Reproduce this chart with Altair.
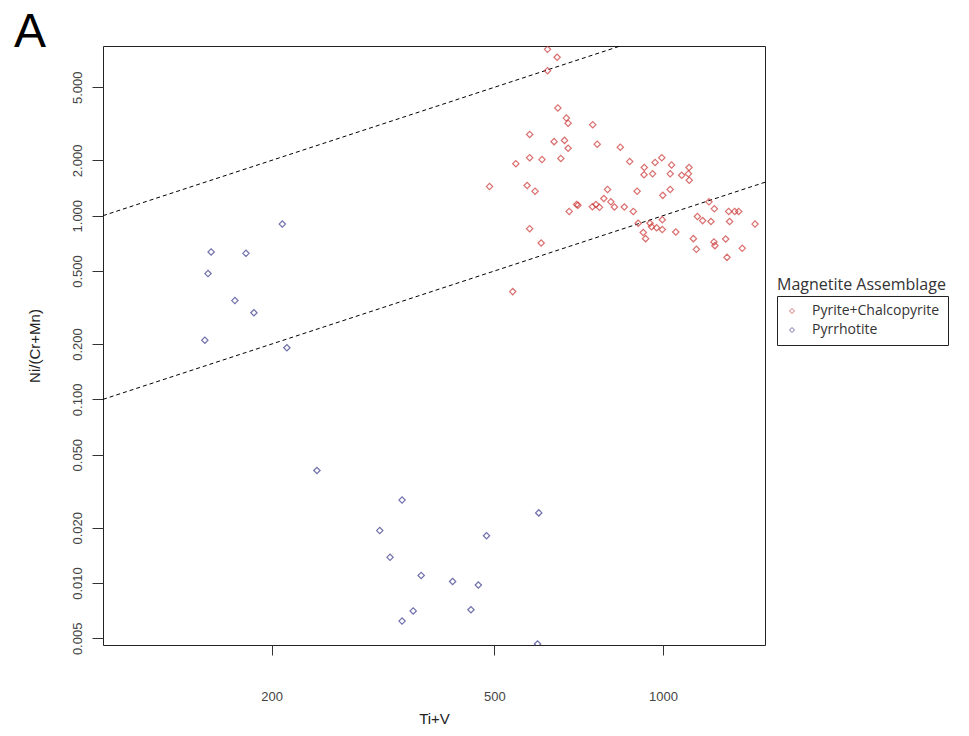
import altair as alt
import pandas as pd

# Pyrite+Chalcopyrite (red)
pc_x = [622, 647, 622, 649, 672, 677, 749, 578, 639, 667, 677, 763, 839, 546, 578,
        608, 657, 872, 926, 925, 958, 968, 995, 1036, 1030, 1080, 1113, 1110, 1114, 490,
        572, 591, 796, 899, 999, 1030, 784, 807, 701, 705, 748, 759, 770, 819, 853,
        885, 680, 1208, 1235, 1310, 1343, 1365, 1152, 1177, 1218, 1315, 1460, 903, 948, 954,
        974, 997, 997, 1054, 922, 931, 1133, 1147, 1233, 1238, 1294, 1385, 1301, 578, 606,
        539]
pc_y = [8.05, 7.29, 6.16, 3.86, 3.40, 3.19, 3.13, 2.77, 2.53, 2.57, 2.33, 2.45, 2.36, 1.92, 2.07,
        2.02, 2.05, 1.97, 1.83, 1.67, 1.69, 1.95, 2.07, 1.89, 1.69, 1.66, 1.83, 1.69, 1.56, 1.44,
        1.46, 1.36, 1.39, 1.36, 1.29, 1.39, 1.24, 1.19, 1.15, 1.14, 1.12, 1.15, 1.11, 1.115, 1.115,
        1.055, 1.055, 1.19, 1.09, 1.055, 1.055, 1.055, 0.99, 0.94, 0.93, 0.93, 0.90, 0.91, 0.91, 0.87,
        0.86, 0.95, 0.84, 0.815, 0.81, 0.75, 0.75, 0.656, 0.72, 0.687, 0.747, 0.664, 0.593, 0.85, 0.71,
        0.386]

# Pyrrhotite (blue)
po_x = [209, 156, 180, 154, 172, 186, 152, 213, 241, 342, 600, 312, 484, 325.5, 370,
        421, 468, 358, 454, 342, 597]
po_y = [0.90, 0.635, 0.624, 0.484, 0.345, 0.296, 0.210, 0.191, 0.041, 0.0283, 0.0241, 0.0193,
        0.0181, 0.0138, 0.0110, 0.0102, 0.00976, 0.00705, 0.00716, 0.00621, 0.00466]

groups = ["Pyrite+Chalcopyrite", "Pyrrhotite"]
colors = ["#cc3333", "#333388"]

# reference lines y = x/100 and y = x/1000
line_x = [100, 1600]
upper_y = [1.0, 16.0]
lower_y = [0.1, 1.6]

x_ticks = [200, 500, 1000]
y_ticks = [0.005, 0.01, 0.02, 0.05, 0.1, 0.2, 0.5, 1, 2, 5]

pts = pd.DataFrame({
    "x": pc_x + po_x,
    "y": pc_y + po_y,
    "g": [groups[0]] * len(pc_x) + [groups[1]] * len(po_x),
})
lines = pd.DataFrame({
    "x": line_x + line_x,
    "y": upper_y + lower_y,
    "k": ["upper"] * 2 + ["lower"] * 2,
})

xs = alt.Scale(type="log", domain=[100, 1521], nice=False)
ys = alt.Scale(type="log", domain=[0.0046, 8.39], nice=False)

xaxis = alt.Axis(values=x_ticks, format="d", tickSize=10, labelPadding=35,
                 labelFontSize=13, labelColor="#444", tickColor="#333", domain=False,
                 grid=False, labelOverlap=False, labelFlush=False, title="Ti+V",
                 titleFontSize=15, titleFontWeight="normal", titleColor="#222", titlePadding=8,
                 labelFont="Liberation Sans", titleFont="Liberation Sans")
yaxis = alt.Axis(values=y_ticks, format=".3f", labelAngle=270, tickSize=11, labelPadding=8,
                 labelFontSize=13, labelColor="#444", tickColor="#333", domain=False,
                 grid=False, labelOverlap=False, labelFlush=False, title="Ni/(Cr+Mn)",
                 titleFontSize=15, titleFontWeight="normal", titleColor="#222", titlePadding=29,
                 labelFont="Liberation Sans", titleFont="Liberation Sans")

points = alt.Chart(pts).mark_point(shape="diamond", filled=False, size=40,
                                    strokeWidth=1.2, clip=True).encode(
    x=alt.X("x:Q", scale=xs, axis=xaxis),
    y=alt.Y("y:Q", scale=ys, axis=yaxis),
    color=alt.Color("g:N", scale=alt.Scale(domain=groups, range=colors),
                    legend=alt.Legend(orient="none", legendX=674, legendY=250, title=None,
                                      strokeColor="#222", padding=8, symbolType="diamond",
                                      symbolSize=25, symbolStrokeWidth=1, labelFontSize=14,
                                      labelFont="Open Sans", labelColor="#333", rowPadding=5,
                                      labelOffset=13)),
)

ref = alt.Chart(lines).mark_line(color="black", strokeDash=[4, 3], strokeWidth=1,
                                  clip=True).encode(
    x=alt.X("x:Q", scale=xs),
    y=alt.Y("y:Q", scale=ys),
    detail="k:N",
)

legtitle = alt.Chart(pd.DataFrame({"t": ["Magnetite Assemblage"]})).mark_text(
    align="left", baseline="middle", fontSize=16, font="Open Sans", color="#333"
).encode(text="t:N", x=alt.value(674), y=alt.value(239))

panel = alt.Chart(pd.DataFrame({"t": ["A"]})).mark_text(
    align="left", baseline="top", fontSize=48, font="Liberation Sans", color="black"
).encode(text="t:N", x=alt.value(-89), y=alt.value(-37))

chart = alt.layer(ref, points, legtitle, panel).properties(
    width=662, height=599,
    autosize=alt.AutoSizeParams(type="none"),
    padding={"left": 95, "top": 38, "right": 196, "bottom": 82},
).configure_view(stroke="#222", strokeWidth=1)

chart.save("out.html", embed_options={"renderer": "svg", "actions": False})
